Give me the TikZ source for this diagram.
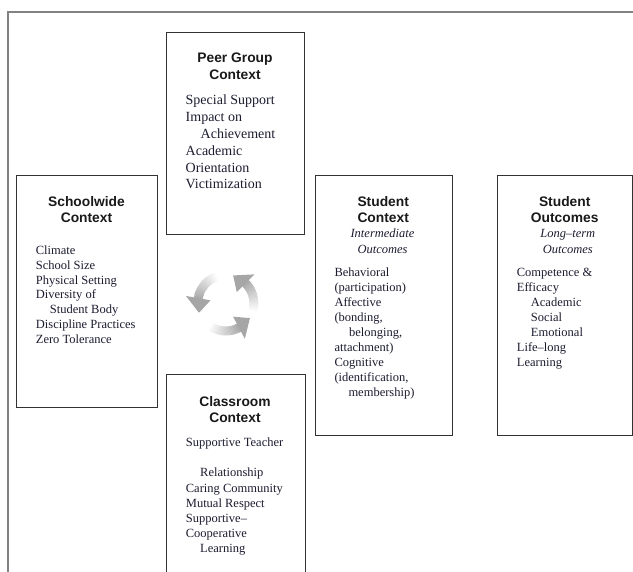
\documentclass[tikz,border=0pt]{standalone}
\usepackage{fontspec}
\setmainfont{Liberation Serif}
\setsansfont{Liberation Sans}
\usetikzlibrary{calc}
\definecolor{txt}{RGB}{28,28,48}
\definecolor{framec}{RGB}{130,130,130}
\definecolor{boxline}{RGB}{50,50,50}
\begin{document}
\begin{tikzpicture}[x=1pt,y=1pt,
  box/.style={draw=boxline, line width=1.4pt, inner sep=0pt, anchor=north west},
  head/.style={font=\sffamily\bfseries\fontsize{13.8}{16.5}\selectfont, align=center, inner sep=0pt, anchor=north, text=black!90},
  sub/.style={font=\itshape\fontsize{12.5}{16}\selectfont, align=center, inner sep=0pt, anchor=north, text=txt},
  body/.style={font=\fontsize{12.5}{15}\selectfont, align=left, inner sep=0pt, anchor=north west, text=txt},
  ]
\useasboundingbox (0,0) rectangle (633,-572);
\clip (0,0) rectangle (633,-572);
\draw[framec, line width=1.5pt] (8,-580) -- (8,-12) -- (640,-12);

% Peer group
\node[box, minimum width=138pt, minimum height=202pt] (peer) at (166,-32) {};
\node[head] (peerh) at (235,-53) {Peer Group\\Context};
\node[body, font=\fontsize{14}{16.8}\selectfont] (peerb) at (185.5,-95) {Special Support\\Impact on\\\hspace*{15pt}Achievement\\Academic\\Orientation\\Victimization};

% Schoolwide
\node[box, minimum width=141pt, minimum height=232pt] (school) at (16,-175) {};
\node[head] (schoolh) at (86.5,-196) {Schoolwide\\Context};
\node[body, font=\fontsize{12.5}{14.8}\selectfont] (schoolb) at (35.7,-245.7) {Climate\\School Size\\Physical Setting\\Diversity of\\\hspace*{14pt}Student Body\\Discipline Practices\\Zero Tolerance};

% Student context
\node[box, minimum width=136.5pt, minimum height=260pt] (student) at (315,-175) {};
\node[head] (studenth) at (383.2,-196) {Student\\Context};
\node[sub] (students) at (382.5,-229) {Intermediate\\Outcomes};
\node[body] (studentb) at (334.3,-267.5) {Behavioral\\(participation)\\Affective\\(bonding,\\\hspace*{14.5pt}belonging,\\attachment)\\Cognitive\\(identification,\\\hspace*{14pt}membership)};

% Student outcomes
\node[box, minimum width=135pt, minimum height=260pt] (outcome) at (497,-175) {};
\node[head] (outcomeh) at (564.7,-196) {Student\\Outcomes};
\node[sub] (outcomes) at (567.8,-229) {Long--term\\Outcomes};
\node[body] (outcomeb) at (516.7,-267.5) {Competence \&\\Efficacy\\\hspace*{14pt}Academic\\\hspace*{14pt}Social\\\hspace*{14pt}Emotional\\Life--long\\Learning};

% Classroom
\node[box, minimum width=139pt, minimum height=240pt] (class) at (165.5,-374) {};
\node[head] (classh) at (235,-396) {Classroom\\Context};
\node[body, font=\fontsize{12.5}{15.2}\selectfont] (classb) at (185.7,-437.5) {Supportive Teacher\\[15.4pt]\hspace*{14.3pt}Relationship\\Caring Community\\Mutual Respect\\Supportive--\\Cooperative\\\hspace*{14.3pt}Learning};

% Cycle icon
\coordinate (c) at (225.8,-303);
\foreach \s in {-15,110,238} {
  \foreach \k in {0,...,13} {
    \pgfmathsetmacro\aa{\s+\k*4.3}
    \pgfmathsetmacro\bb{\s+(\k+1)*4.3+0.6}
    \pgfmathsetmacro\shade{5+\k*4.6}
    \draw[line width=9pt, color=gray!\shade] ($(c)+(\aa:28)$) arc[start angle=\aa, end angle=\bb, radius=28];
  }
  \pgfmathsetmacro\hb{\s+60}
  \pgfmathsetmacro\hm{\s+75}
  \pgfmathsetmacro\he{\s+90}
  \fill[gray!70] ($(c)+(\hb:15.5)$) -- ($(c)+(\hb:40.5)$) -- ($(c)+(\he:28.5)$) -- cycle;
}
\end{tikzpicture}
\end{document}
